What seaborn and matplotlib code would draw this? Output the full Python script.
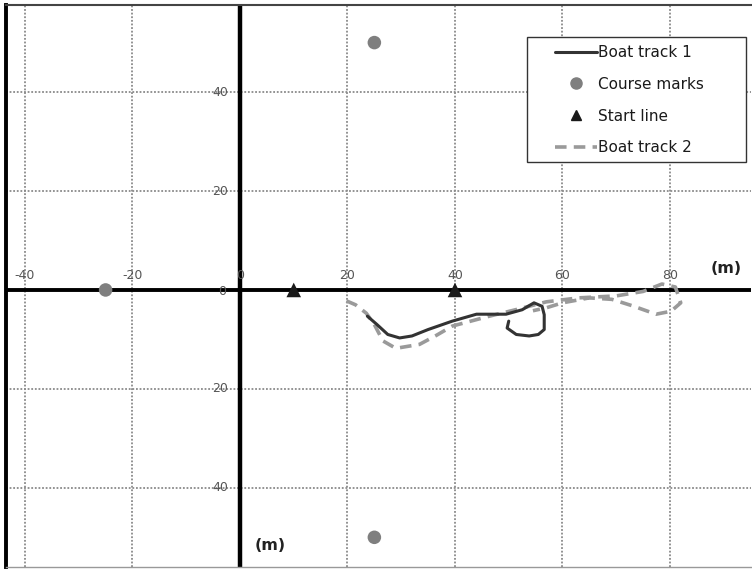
import matplotlib
matplotlib.use("Agg")
import matplotlib.pyplot as plt
import seaborn as sns
import pandas as pd
from matplotlib.lines import Line2D
from matplotlib.patches import Rectangle

# ---- data ----
track1_x = [23.7, 25.5, 27.5, 29.7, 32.0, 35.0, 39.5, 44.0, 49.5, 52.5, 54.7, 56.2, 56.6, 56.6, 55.5, 53.8, 51.4, 49.7, 50.0]
track1_y = [-5.3, -7.0, -9.0, -9.7, -9.3, -8.0, -6.3, -4.9, -4.9, -4.0, -2.6, -3.3, -5.0, -8.0, -9.0, -9.3, -9.0, -7.7, -6.3]

track2_x = [19.8, 21.5, 23.5, 25.0, 26.6, 29.0, 33.4, 36.5, 39.5, 46.4, 52.0, 57.0, 63.0, 70.0, 75.0, 78.5, 81.0, 82.0, 80.2, 77.4, 73.0, 69.2, 65.0, 60.0, 57.0, 54.5]
track2_y = [-2.2, -3.0, -4.7, -7.0, -10.3, -11.8, -11.0, -9.2, -7.3, -5.3, -3.8, -2.4, -1.6, -1.2, -0.3, 1.2, 0.6, -2.6, -4.3, -4.9, -3.2, -1.9, -1.6, -2.6, -3.6, -4.2]

marks_x = [-25, 25, 25]
marks_y = [0, 50, -50]

start_x = [10, 40]
start_y = [0, 0]

x_ticks = [-40, -20, 0, 20, 40, 60, 80]
x_tick_labels = ["-40", "-20", "0", "20", "40", "60", "80"]
y_ticks = [40, 20, 0, -20, -40]
y_tick_labels = ["40", "20", "0", "20", "40"]

legend_labels = ["Boat track 1", "Course marks", "Start line", "Boat track 2"]

# ---- figure ----
sns.set_theme(style="white")
plt.rcParams['font.family'] = ['DejaVu Sans']

W, H = 752, 570
fig = plt.figure(figsize=(W / 100, H / 100), dpi=100)
ax = fig.add_axes([6 / W, (H - 567) / H, (751 - 6) / W, (567 - 5) / H])

ax.set_xlim(-43.53, 95.07)
ax.set_ylim(-56.0, 57.6)

# grid
ax.set_xticks(x_ticks)
ax.set_yticks(y_ticks)
ax.set_xticklabels([])
ax.set_yticklabels([])
ax.tick_params(length=0)
ax.grid(True, color="#8a8a8a", linestyle=(0, (1, 1)), linewidth=1.3, zorder=0)

# axes lines
ax.axhline(0, color="black", lw=2.8, zorder=2)
ax.axvline(0, color="black", lw=3.2, zorder=2)

# spines
ax.spines["right"].set_visible(False)
ax.spines["left"].set_color("black")
ax.spines["left"].set_linewidth(2.8)
ax.spines["top"].set_color("#444444")
ax.spines["top"].set_linewidth(1.5)
ax.spines["bottom"].set_color("#999999")
ax.spines["bottom"].set_linewidth(1.0)

# tracks
dash = (0, (3.2, 2.0))
df1 = pd.DataFrame({"x": track1_x, "y": track1_y})
df2 = pd.DataFrame({"x": track2_x, "y": track2_y})
sns.lineplot(data=df2, x="x", y="y", sort=False, estimator=None, ax=ax,
             color="#9a9a9a", lw=2.6, linestyle=dash, zorder=3)
sns.lineplot(data=df1, x="x", y="y", sort=False, estimator=None, ax=ax,
             color="#333333", lw=2.2, zorder=4)

# markers
sns.scatterplot(x=marks_x, y=marks_y, ax=ax, color="#7f7f7f", s=95, marker="o",
                edgecolor="none", zorder=5)
sns.scatterplot(x=start_x, y=start_y, ax=ax, color="#1a1a1a", s=110, marker="^",
                edgecolor="none", zorder=5)

ax.set_xlabel("")
ax.set_ylabel("")

# tick labels as text
for t, lab in zip(x_ticks, x_tick_labels):
    ax.text(t, 2.9, lab, ha="center", va="center", fontsize=9, color="#555555", zorder=6)
for t, lab in zip(y_ticks, y_tick_labels):
    if t == 0:
        ax.text(-3.4, -0.4, lab, ha="center", va="center", fontsize=9, color="#555555", zorder=6)
    else:
        ax.text(-3.7, t, lab, ha="center", va="center", fontsize=9, color="#555555", zorder=6)

ax.text(90.5, 4.3, "(m)", ha="center", va="center", fontsize=11.5, fontweight="bold", color="#222222")
ax.text(5.6, -51.6, "(m)", ha="center", va="center", fontsize=11.5, fontweight="bold", color="#222222")

# legend
handles = [
    Line2D([0], [0], color="#333333", lw=2.2),
    Line2D([0], [0], color="#7f7f7f", marker="o", linestyle="none", markersize=8),
    Line2D([0], [0], color="#1a1a1a", marker="^", linestyle="none", markersize=7),
    Line2D([0], [0], color="#9a9a9a", lw=2.6, linestyle=dash),
]
leg = fig.legend(handles, legend_labels, loc="upper left", bbox_to_anchor=(555 / W, 1 - 45 / H),
                 fontsize=11, frameon=False,
                 handlelength=2.75, handletextpad=0.08, labelspacing=1.1,
                 borderpad=0, borderaxespad=0)
for txt in leg.get_texts():
    txt.set_color("#1a1a1a")
leg.set_zorder(10)

frame = Rectangle((527 / W, 1 - 162 / H), (746 - 527) / W, (162 - 37) / H,
                  transform=fig.transFigure, facecolor="white",
                  edgecolor="#333333", linewidth=1.0, zorder=5)
fig.add_artist(frame)

fig.savefig("out.png", dpi=100)
